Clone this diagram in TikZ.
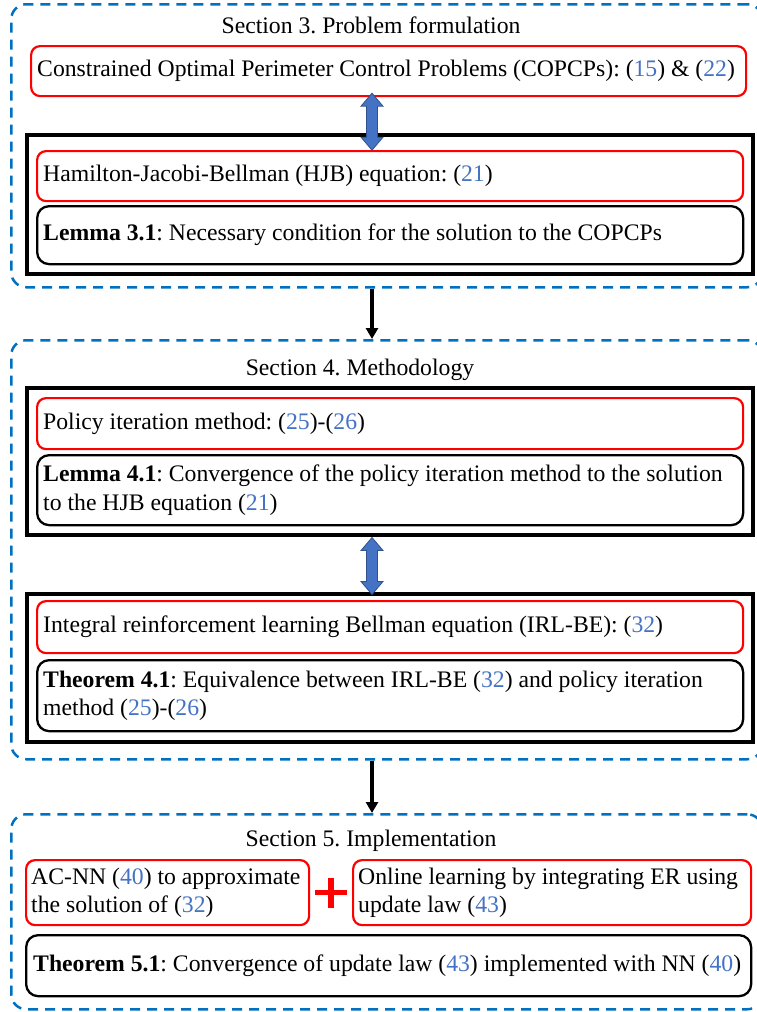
\documentclass[tikz,border=0pt]{standalone}
\usepackage{fontspec}
\setmainfont{Liberation Serif}
\usetikzlibrary{arrows.meta,calc}
\definecolor{secblue}{HTML}{0070C0}
\definecolor{refblue}{HTML}{4472C4}
\definecolor{arrblue}{HTML}{4472C4}
\definecolor{arredge}{HTML}{2F528F}
\newcommand{\eqr}[1]{(\textcolor{refblue}{#1})}
\newcommand{\dblarrow}[1]{%
  \filldraw[fill=arrblue, draw=arredge, line width=0.8pt, line join=miter]
    #1 -- ++(11,13) -- ++(-5.5,0) -- ++(0,31) -- ++(5.5,0) -- ++(-11,13)
    -- ++(-11,-13) -- ++(5.5,0) -- ++(0,-31) -- ++(-5.5,0) -- cycle;}
\frenchspacing
\begin{document}
\begin{tikzpicture}[x=1pt, y=-1pt,
  font=\fontsize{23.7}{28.3}\selectfont,
  secbox/.style={draw=secblue, line width=2.5pt, dash pattern=on 10pt off 7pt,
    rounded corners=15pt, anchor=north west, inner sep=0pt},
  redbox/.style={draw=red, line width=2.2pt, rounded corners=9pt, anchor=north west, inner sep=0pt},
  blkbox/.style={draw=black, line width=2.3pt, rounded corners=12pt, anchor=north west, inner sep=0pt},
  outerbox/.style={draw=black, line width=3.5pt, anchor=north west, inner sep=0pt},
  txt/.style={anchor=west, inner sep=0pt, align=left},
  sectitle/.style={anchor=base, inner sep=0pt},
  flow/.style={-{Triangle[length=11pt,width=12pt]}, line width=3.2pt}
]
\useasboundingbox (0,0) rectangle (756,1012);
\coordinate (ax) at (372,0);

% ---------- Section 3
\node[secbox, minimum width=751pt, minimum height=283pt] (sec3) at (10,3) {};
\node[sectitle] (t3) at (371,33) {Section 3. Problem formulation};
\node[redbox, minimum width=715pt, minimum height=50pt] (copcp) at (30,45) {};
\node[txt] (copcp-t) at ([xshift=7pt]copcp.west)
  {Constrained Optimal Perimeter Control Problems (COPCPs): \eqr{15} \& \eqr{22}};
\node[outerbox, minimum width=726pt, minimum height=139pt] (out3) at (25,133) {};
\node[redbox, minimum width=706pt, minimum height=50pt] (hjb) at (36,150) {};
\node[txt] (hjb-t) at ([xshift=7pt]hjb.west)
  {Hamilton-Jacobi-Bellman (HJB) equation: \eqr{21}};
\node[blkbox, minimum width=706pt, minimum height=58pt] (lem31) at (36,205) {};
\node[txt] (lem31-t) at ([xshift=7pt]lem31.west)
  {\textbf{Lemma 3.1}: Necessary condition for the solution to the COPCPs};
\dblarrow{($(copcp.south -| ax)+(0,-4)$)}

% ---------- Section 4
\node[secbox, minimum width=751pt, minimum height=419pt] (sec4) at (10,339) {};
\node[sectitle] (t4) at (360,375) {Section 4. Methodology};
\node[outerbox, minimum width=726pt, minimum height=147pt] (out4a) at (25,386) {};
\node[redbox, minimum width=706pt, minimum height=51pt] (pol) at (36,397) {};
\node[txt] (pol-t) at ([xshift=7pt]pol.west)
  {Policy iteration method: \eqr{25}-\eqr{26}};
\node[blkbox, minimum width=706pt, minimum height=70pt] (lem41) at (36,454) {};
\node[txt] (lem41-t) at ([xshift=7pt]lem41.west)
  {\textbf{Lemma 4.1}: Convergence of the policy iteration method to the solution\\
   to the HJB equation \eqr{21}};
\node[outerbox, minimum width=726pt, minimum height=148pt] (out4b) at (25,592) {};
\node[redbox, minimum width=706pt, minimum height=52pt] (irl) at (36,600) {};
\node[txt] (irl-t) at ([xshift=7pt]irl.west)
  {Integral reinforcement learning Bellman equation (IRL-BE): \eqr{32}};
\node[blkbox, minimum width=706pt, minimum height=71pt] (thm41) at (36,659) {};
\node[txt] (thm41-t) at ([xshift=7pt]thm41.west)
  {\textbf{Theorem 4.1}: Equivalence between IRL-BE \eqr{32} and policy iteration\\
   method \eqr{25}-\eqr{26}};
\dblarrow{($(out4a.south -| ax)+(0,1)$)}

% ---------- Section 5
\node[secbox, minimum width=751pt, minimum height=195pt] (sec5) at (10,813) {};
\node[sectitle] (t5) at (371,846) {Section 5. Implementation};
\node[redbox, minimum width=283pt, minimum height=65pt] (acnn) at (25,859) {};
\node[txt] (acnn-t) at ([xshift=6pt]acnn.west)
  {AC-NN \eqr{40} to approximate\\ the solution of \eqr{32}};
\node[redbox, minimum width=398pt, minimum height=65pt] (online) at (352,859) {};
\node[txt] (online-t) at ([xshift=6pt]online.west)
  {Online learning by integrating ER using\\ update law \eqr{43}};
\coordinate (plus) at ($(acnn.east)!0.5!(online.west)$);
\draw[red, line width=5.5pt] ($(plus)+(-16,0)$) -- ($(plus)+(16,0)$);
\draw[red, line width=5.5pt] ($(plus)+(0,-15)$) -- ($(plus)+(0,15)$);
\node[blkbox, minimum width=725pt, minimum height=61pt] (thm51) at (25,934) {};
\node[txt] (thm51-t) at ([xshift=8pt]thm51.west)
  {\textbf{Theorem 5.1}: Convergence of update law \eqr{43} implemented with NN \eqr{40}};

% ---------- flow arrows
\draw[flow] (sec3.south -| ax) -- (sec4.north -| ax);
\draw[flow] (sec4.south -| ax) -- (sec5.north -| ax);
\end{tikzpicture}
\end{document}
